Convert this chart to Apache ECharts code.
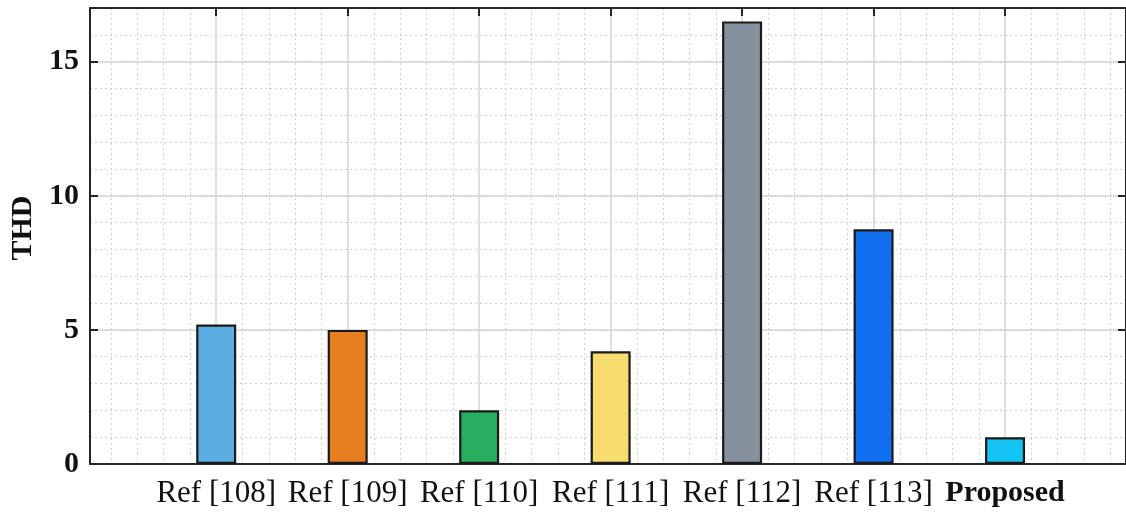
<!DOCTYPE html>
<html>
<head>
<meta charset="utf-8">
<script src="https://cdn.jsdelivr.net/npm/echarts@6/dist/echarts.min.js"></script>
<style>
  html, body { margin: 0; padding: 0; background: #ffffff; }
  #chart { width: 1126px; height: 512px; }
</style>
</head>
<body>
<div id="chart"></div>
<script>
// THD of each method
const categories = ['Ref [108]', 'Ref [109]', 'Ref [110]', 'Ref [111]', 'Ref [112]', 'Ref [113]', 'Proposed'];
const thdValues = [5.2, 5.0, 2.0, 4.2, 16.5, 8.75, 1.0];
const barColors = ['#5DADE2', '#E67E22', '#27AE60', '#F7DC6F', '#85929E', '#0F6FEF', '#14C4F3'];
const yTickLabels = ['0', '5', '10', '15'];
const highlighted = 'Proposed';

const FONT = '"Liberation Serif", "Times New Roman", serif';
const AXIS_COLOR = '#262626';
const MAJOR_GRID = { show: true, lineStyle: { color: '#d4d4d4', width: 1.5, type: 'solid' } };
const MINOR_GRID = { show: true, lineStyle: { color: '#cfcfcf', width: 1, type: [2, 3] } };

const X_MIN = 0.04, X_MAX = 7.92, Y_MIN = 0, Y_MAX = 17;

const chart = echarts.init(document.getElementById('chart'), null, { renderer: 'canvas' });

const barData = thdValues.map((v, i) => ({
  value: [i + 1, v],
  itemStyle: { color: barColors[i] }
}));

chart.setOption({
  animation: false,
  backgroundColor: '#ffffff',
  grid: { left: 89, right: -1, top: 8, bottom: 48, containLabel: false },
  xAxis: [
    {
      type: 'value', position: 'bottom', min: X_MIN, max: X_MAX, splitNumber: 8,
      axisLine: { show: true, onZero: false, lineStyle: { color: AXIS_COLOR, width: 2 } },
      axisTick: { show: true, inside: true, length: 8, lineStyle: { color: AXIS_COLOR, width: 2 } },
      axisLabel: {
        show: true, margin: 14, fontFamily: FONT, fontSize: 31, color: '#111',
        showMinLabel: false, showMaxLabel: false,
        formatter: function (val) {
          const idx = Math.round(val) - 1;
          if (Math.abs(val - Math.round(val)) > 1e-6 || idx < 0 || idx >= categories.length) return '';
          const name = categories[idx];
          return name === highlighted ? '{b|' + name + '}' : name;
        },
        rich: { b: { fontFamily: FONT, fontSize: 30, fontWeight: 'bold', color: '#111' } }
      },
      splitLine: MAJOR_GRID,
      minorTick: { show: false, splitNumber: 5 },
      minorSplitLine: MINOR_GRID
    },
    {
      type: 'value', position: 'top', min: X_MIN, max: X_MAX, splitNumber: 8,
      axisLine: { show: true, onZero: false, lineStyle: { color: AXIS_COLOR, width: 2 } },
      axisTick: { show: true, inside: true, length: 8, lineStyle: { color: AXIS_COLOR, width: 2 } },
      axisLabel: { show: false },
      splitLine: { show: false }
    }
  ],
  yAxis: [
    {
      type: 'value', position: 'left', min: Y_MIN, max: Y_MAX, interval: 5,
      name: 'THD', nameLocation: 'middle', nameGap: 52, nameRotate: 90,
      nameTextStyle: { fontFamily: FONT, fontSize: 30, fontWeight: 'bold', color: '#111', padding: [0, 0, 0, 16] },
      axisLine: { show: true, onZero: false, lineStyle: { color: AXIS_COLOR, width: 2 } },
      axisTick: { show: true, inside: true, length: 8, lineStyle: { color: AXIS_COLOR, width: 2 } },
      axisLabel: {
        show: true, margin: 11, fontFamily: FONT, fontSize: 30, fontWeight: 'bold', color: '#111',
        showMaxLabel: false,
        formatter: function (val) {
          const s = String(val);
          return yTickLabels.indexOf(s) >= 0 ? s : '';
        }
      },
      splitLine: MAJOR_GRID
    },
    {
      type: 'value', position: 'right', min: Y_MIN, max: Y_MAX, interval: 5,
      axisLine: { show: true, onZero: false, lineStyle: { color: AXIS_COLOR, width: 2 } },
      axisTick: { show: true, inside: true, length: 8, lineStyle: { color: AXIS_COLOR, width: 2 } },
      axisLabel: { show: false },
      splitLine: { show: false }
    },
    {
      // minor horizontal grid, one line per unit
      type: 'value', position: 'left', min: Y_MIN, max: Y_MAX, interval: 1,
      axisLine: { show: false }, axisTick: { show: false }, axisLabel: { show: false },
      splitLine: MINOR_GRID
    }
  ],
  series: [
    {
      type: 'bar',
      xAxisIndex: 0,
      yAxisIndex: 0,
      barWidth: 40,
      data: barData,
      itemStyle: { borderColor: '#1a1a1a', borderWidth: 2.2 },
      z: 3
    }
  ]
});
</script>
</body>
</html>
